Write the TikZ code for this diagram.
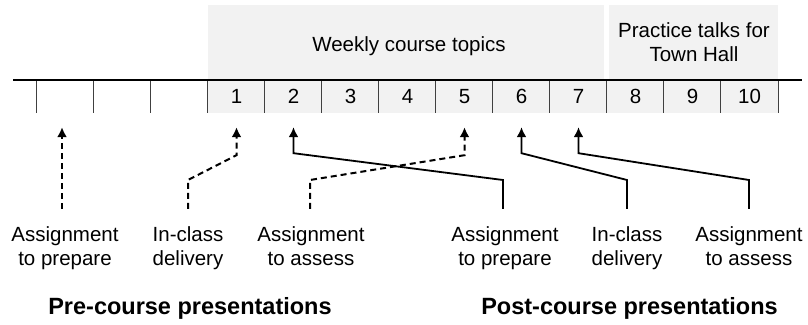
\documentclass[tikz,border=0pt]{standalone}
\usepackage{fontspec}
\setmainfont{Liberation Sans}
\usetikzlibrary{arrows.meta,positioning}
\tikzstyle{band}=[fill=black!5,inner sep=0pt]
\tikzstyle{wk}=[fill=black!5,inner sep=0pt,minimum width=57pt,minimum height=33pt,font=\fontsize{20.5}{25}\selectfont]
\tikzstyle{blank}=[inner sep=0pt,minimum width=57pt,minimum height=33pt]
\tikzstyle{txt}=[inner sep=0pt,align=center,font=\fontsize{20.5}{24.5}\selectfont]
\tikzstyle{ttl}=[inner sep=0pt,font=\fontsize{23.5}{28}\selectfont\bfseries]
\tikzstyle{tick}=[line width=1.2pt,draw=black!75]
\tikzstyle{pre}=[line width=2pt,dash pattern=on 6pt off 4pt,-{Latex[length=10pt,width=10pt]}]
\tikzstyle{post}=[line width=1.8pt,-{Latex[length=10pt,width=10pt]}]

\begin{document}
\begin{tikzpicture}[x=1pt,y=1pt]
     \useasboundingbox (0,0) rectangle (808,324);
     \node [band,minimum width=396pt,minimum height=75pt] (topicband) at (406,281.5) {};
     \node [band,minimum width=169.3pt,minimum height=75pt] (talkband) at (693.35,281.5) {};
     \node [txt,anchor=base] (topics) at (409,272) {Weekly course topics};
     \node [txt,anchor=north] (talks) at (694,302) {Practice talks for\\Town Hall};

     \node [blank] (e1) at (65.5,227.5) {};
     \node [blank,right of=e1,node distance=57pt] (e2) {};
     \node [blank,right of=e2,node distance=57pt] (e3) {};
     \node [wk,right of=e3,node distance=57pt] (w1) {1};
     \node [wk,right of=w1,node distance=57pt] (w2) {2};
     \node [wk,right of=w2,node distance=57pt] (w3) {3};
     \node [wk,right of=w3,node distance=57pt] (w4) {4};
     \node [wk,right of=w4,node distance=57pt] (w5) {5};
     \node [wk,right of=w5,node distance=57pt] (w6) {6};
     \node [wk,right of=w6,node distance=57pt] (w7) {7};
     \node [wk,right of=w7,node distance=57pt] (w8) {8};
     \node [wk,right of=w8,node distance=57pt] (w9) {9};
     \node [wk,right of=w9,node distance=57pt] (w10) {10};
     \draw [tick] (e1.north west) -- (e1.south west) (e2.north west) -- (e2.south west)
       (e3.north west) -- (e3.south west) (w1.north west) -- (w1.south west)
       (w2.north west) -- (w2.south west) (w3.north west) -- (w3.south west)
       (w4.north west) -- (w4.south west) (w5.north west) -- (w5.south west)
       (w6.north west) -- (w6.south west) (w7.north west) -- (w7.south west)
       (w8.north west) -- (w8.south west) (w9.north west) -- (w9.south west)
       (w10.north west) -- (w10.south west) (w10.north east) -- (w10.south east);
     \draw [line width=2.2pt] (13,244) -- (802,244);

     \node [txt,anchor=north] (prepA) at (65,98) {Assignment\\to prepare};
     \node [txt,anchor=north] (delivA) at (188,98) {In-class\\delivery};
     \node [txt,anchor=north] (assessA) at (311,98) {Assignment\\to assess};
     \node [txt,anchor=north] (prepB) at (505,98) {Assignment\\to prepare};
     \node [txt,anchor=north] (delivB) at (627,98) {In-class\\delivery};
     \node [txt,anchor=north] (assessB) at (749,98) {Assignment\\to assess};
     \node [ttl,anchor=base] (pretitle) at (190,10) {Pre-course presentations};
     \node [ttl,anchor=base] (posttitle) at (629.5,10) {Post-course presentations};

     \draw [pre] ([xshift=-3pt,yshift=17pt]prepA.north) -- ([xshift=-3.5pt,yshift=-14pt]e1.south);
     \draw [pre] ([yshift=17pt]delivA.north) -- ++(0,29) -- ([yshift=-42pt]w1.south) -- ([yshift=-14pt]w1.south);
     \draw [pre] ([xshift=-1pt,yshift=17pt]assessA.north) -- ++(0,29) -- ([yshift=-42pt]w5.south) -- ([yshift=-14pt]w5.south);
     \draw [post] ([xshift=-2pt,yshift=17pt]prepB.north) -- ++(0,29) -- ([yshift=-40pt]w2.south) -- ([yshift=-14pt]w2.south);
     \draw [post] ([yshift=17pt]delivB.north) -- ++(0,29) -- ([yshift=-40pt]w6.south) -- ([yshift=-14pt]w6.south);
     \draw [post] ([yshift=17pt]assessB.north) -- ++(0,29) -- ([yshift=-40pt]w7.south) -- ([yshift=-14pt]w7.south);
    \end{tikzpicture}
\end{document}
